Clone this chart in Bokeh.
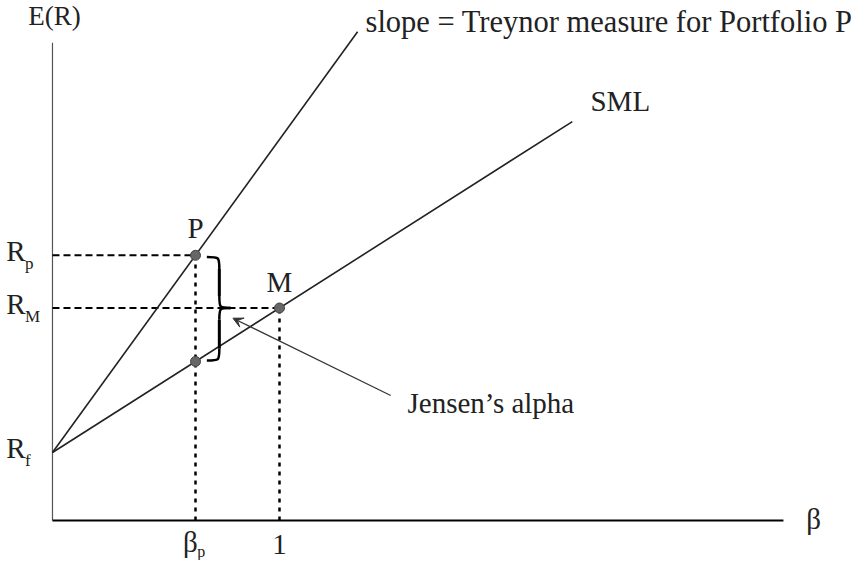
from bokeh.plotting import figure
from bokeh.models import Range1d, Arrow, VeeHead
from bokeh.core.properties import value
from bokeh.embed import file_html
from bokeh.resources import INLINE

# ---- data (beta on x, expected return on y) ----
r_f = 4.0
r_m = 12.5
r_p = 15.6
beta_m = 1.0
beta_p = 0.63
sml_end_beta = 2.29
treynor_end_beta = 1.344
x_axis_end = 3.22
y_axis_top = 28.1
brace_x = [0.68, 0.735, 0.785]          # left end, stem, tip
arrow_from = [1.49, 7.35]
arrow_to = [0.795, 11.9]

FONT = value("Liberation Serif")
sml_slope = (r_m - r_f) / beta_m
tre_slope = (r_p - r_f) / beta_p
r_low = r_f + beta_p * sml_slope

p = figure(width=859, height=560, output_backend="svg", toolbar_location=None,
           x_range=Range1d(-0.229, 3.555), y_range=Range1d(-2.353, 30.588),
           x_axis_type=None, y_axis_type=None, min_border=0)
p.outline_line_color = None
p.background_fill_color = "white"

# axes
p.line([0, 0], [0, y_axis_top], line_color="#555", line_width=1.2)
p.line([0, x_axis_end], [0, 0], line_color="black", line_width=2)

# dashed guides
p.line([0, beta_p], [r_p, r_p], line_color="black", line_width=2, line_dash="7 4")
p.line([0, beta_m], [r_m, r_m], line_color="black", line_width=2, line_dash="7 4")
p.line([beta_p, beta_p], [0, r_p], line_color="black", line_width=2.5, line_dash="4 5")
p.line([beta_m, beta_m], [0, r_m], line_color="black", line_width=2.5, line_dash="4 5")

# lines
p.line([0, treynor_end_beta], [r_f, r_f + tre_slope * treynor_end_beta],
       line_color="#222", line_width=1.6)
p.line([0, sml_end_beta], [r_f, r_f + sml_slope * sml_end_beta],
       line_color="#222", line_width=1.6)

# points
p.scatter([beta_p, beta_m, beta_p], [r_p, r_m, r_low], size=10,
          fill_color="#666", line_color="#444", line_width=1)

# brace
x0, x1, x2 = brace_x
ytop, ybot = r_p - 0.1, r_low + 0.05
ymid = (ytop + ybot) / 2 + 0.05
h = 0.7
p.bezier(x0=[x0, x1, x2, x1], y0=[ytop, ymid + h, ymid, ybot + h],
         x1=[x1, x2, x1, x0], y1=[ytop - h, ymid, ymid - h, ybot],
         cx0=[x1, x1, x1, x1], cy0=[ytop, ymid, ymid, ybot],
         cx1=[x1, x1, x1, x1], cy1=[ytop, ymid, ymid, ybot],
         line_color="black", line_width=2.5)
p.line([x1, x1], [ytop - h, ymid + h], line_color="black", line_width=3)
p.line([x1, x1], [ymid - h, ybot + h], line_color="black", line_width=3)

# arrow
p.add_layout(Arrow(end=VeeHead(size=10, fill_color="#333", line_color="#333"),
                   x_start=arrow_from[0], y_start=arrow_from[1],
                   x_end=arrow_to[0], y_end=arrow_to[1],
                   line_color="#333", line_width=1.2))

def txt(x, y, s, size="29px", align="left", baseline="middle"):
    p.text([x], [y], text=[s], text_font=FONT, text_font_size=size,
           text_align=align, text_baseline=baseline, text_color="#222")

# labels
txt(0.009, 29.7, "E(R)", align="center", size="27px")
txt(1.379, 29.35, "slope = Treynor measure for Portfolio P", size="30.5px")
txt(2.37, 24.7, "SML")
txt(1.564, 6.94, "Jensen\u2019s alpha")
txt(beta_p, r_p + 1.6, "P", align="center")
txt(beta_m, r_m + 1.5, "M", align="center")
txt(x_axis_end + 0.1, 0.06, "\u03b2")

# y tick labels
for yv, sub in [(r_p, "p"), (r_m, "M"), (r_f, "f")]:
    txt(-0.119, yv + 0.24, "R", align="right")
    txt(-0.121, yv - 0.5, sub, size="17px")

# x tick labels
txt(beta_p + 0.01, -1.29, "\u03b2", align="right")
txt(beta_p + 0.008, -1.82, "p", size="16px")
txt(beta_m, -1.41, "1", align="center")

open("out.html", "w").write(file_html(p, INLINE))
